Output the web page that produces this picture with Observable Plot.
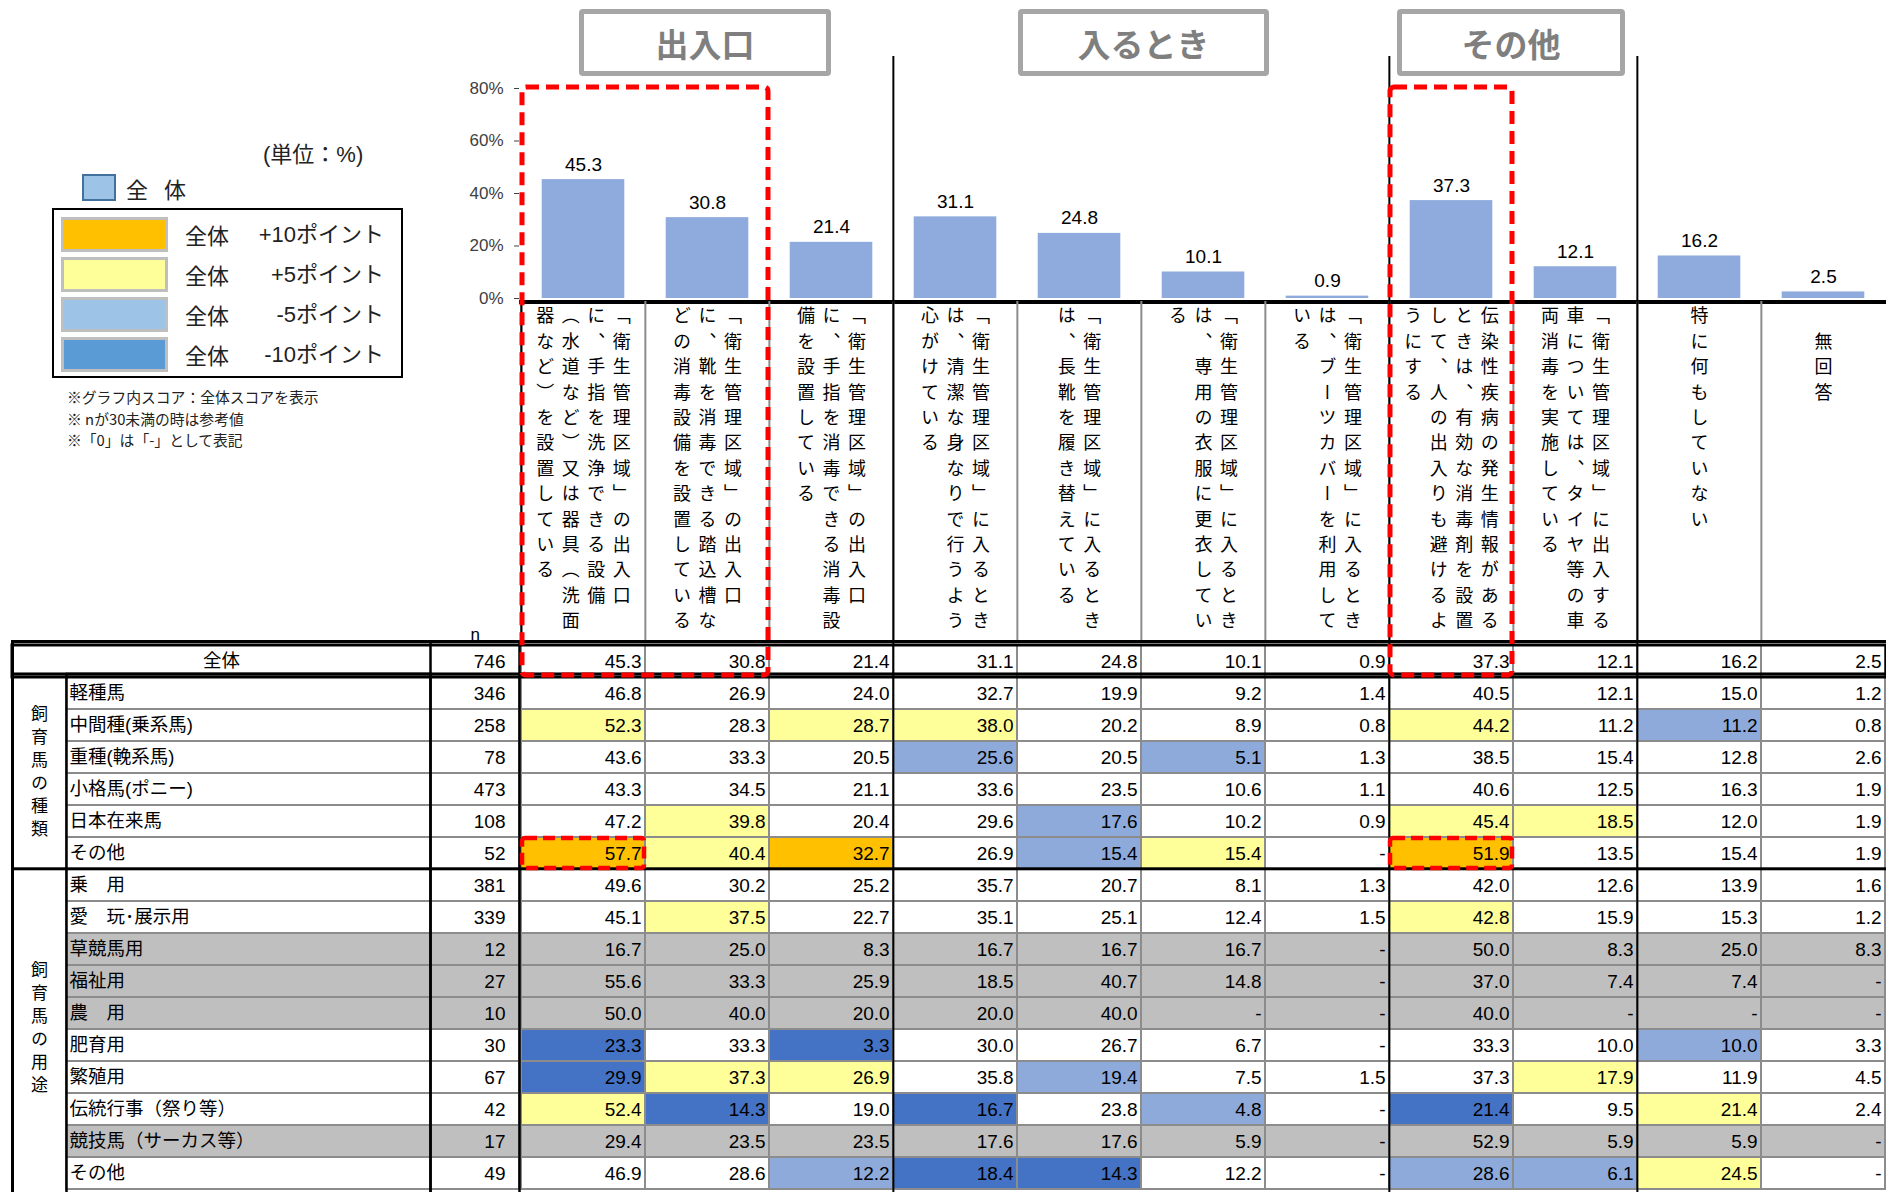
<!DOCTYPE html>
<html><head><meta charset="utf-8">
<script src="https://cdn.jsdelivr.net/npm/d3@7"></script>
<script src="https://cdn.jsdelivr.net/npm/@observablehq/plot@0.6"></script>
<style>
body{margin:0;background:#fff;}
#wrap{position:relative;width:1886px;height:1192px;overflow:hidden;background:#fff;}
.abs{position:absolute;}
.abs svg{display:block;}
.hdr{position:absolute;top:9px;height:67px;box-sizing:border-box;border:5px solid #a6a6a6;border-radius:4px;display:flex;align-items:center;justify-content:center;font:700 33px 'Noto Sans CJK JP',sans-serif;color:#7f7f7f;background:#fff;}
.jp{font-family:'Noto Sans CJK JP',sans-serif;color:#222;}
.mix{font-family:'Liberation Sans','Noto Sans CJK JP',sans-serif;color:#222;}
</style></head>
<body><div id="wrap"></div>
<script>
// ---------------- data ----------------
const colKeys = ["c1","c2","c3","c4","c5","c6","c7","c8","c9","c10","c11"];
const colLabelLines = [
  ["「衛生管理区域」の出入口","に、手指を洗浄できる設備","（水道など）又は器具（洗面","器など）を設置している"],
  ["「衛生管理区域」の出入口","に、靴を消毒できる踏込槽な","どの消毒設備を設置している"],
  ["「衛生管理区域」の出入口","に、手指を消毒できる消毒設","備を設置している"],
  ["「衛生管理区域」に入るとき","は、清潔な身なりで行うよう","心がけている"],
  ["「衛生管理区域」に入るとき","は、長靴を履き替えている"],
  ["「衛生管理区域」に入るとき","は、専用の衣服に更衣してい","る"],
  ["「衛生管理区域」に入るとき","は、ブーツカバーを利用して","いる"],
  ["伝染性疾病の発生情報がある","ときは、有効な消毒剤を設置","して、人の出入りも避けるよ","うにする"],
  ["「衛生管理区域」に出入する","車については、タイヤ等の車","両消毒を実施している"],
  ["特に何もしていない"],
  ["　無回答"]
];
const groupHeaders = ["出入口","入るとき","その他"];
const yTicks = [0,20,40,60,80];

const rowKeys = ["全体","軽種馬","中間種(乗系馬)","重種(輓系馬)","小格馬(ポニー)","日本在来馬","その他(種類)",
  "乗用","愛玩・展示用","草競馬用","福祉用","農用","肥育用","繁殖用","伝統行事","競技馬","その他(用途)"];
const rowLabels = ["全体","軽種馬","中間種(乗系馬)","重種(輓系馬)","小格馬(ポニー)","日本在来馬","その他",
  "乗　用","愛　玩･展示用","草競馬用","福祉用","農　用","肥育用","繁殖用","伝統行事（祭り等）","競技馬（サーカス等）","その他"];
const rowN = [746,346,258,78,473,108,52,381,339,12,27,10,30,67,42,17,49];

const vTotal    = [45.3,30.8,21.4,31.1,24.8,10.1,0.9,37.3,12.1,16.2,2.5];
const vKeishu   = [46.8,26.9,24.0,32.7,19.9,9.2,1.4,40.5,12.1,15.0,1.2];
const vChukan   = [52.3,28.3,28.7,38.0,20.2,8.9,0.8,44.2,11.2,11.2,0.8];
const vJushu    = [43.6,33.3,20.5,25.6,20.5,5.1,1.3,38.5,15.4,12.8,2.6];
const vShokaku  = [43.3,34.5,21.1,33.6,23.5,10.6,1.1,40.6,12.5,16.3,1.9];
const vZairai   = [47.2,39.8,20.4,29.6,17.6,10.2,0.9,45.4,18.5,12.0,1.9];
const vSonota1  = [57.7,40.4,32.7,26.9,15.4,15.4,0,51.9,13.5,15.4,1.9];
const vJoyo     = [49.6,30.2,25.2,35.7,20.7,8.1,1.3,42.0,12.6,13.9,1.6];
const vAigan    = [45.1,37.5,22.7,35.1,25.1,12.4,1.5,42.8,15.9,15.3,1.2];
const vKusakeiba= [16.7,25.0,8.3,16.7,16.7,16.7,0,50.0,8.3,25.0,8.3];
const vFukushi  = [55.6,33.3,25.9,18.5,40.7,14.8,0,37.0,7.4,7.4,0];
const vNoyo     = [50.0,40.0,20.0,20.0,40.0,0,0,40.0,0,0,0];
const vHiiku    = [23.3,33.3,3.3,30.0,26.7,6.7,0,33.3,10.0,10.0,3.3];
const vHanshoku = [29.9,37.3,26.9,35.8,19.4,7.5,1.5,37.3,17.9,11.9,4.5];
const vDento    = [52.4,14.3,19.0,16.7,23.8,4.8,0,21.4,9.5,21.4,2.4];
const vKyogi    = [29.4,23.5,23.5,17.6,17.6,5.9,0,52.9,5.9,5.9,0];
const vSonota2  = [46.9,28.6,12.2,18.4,14.3,12.2,0,28.6,6.1,24.5,0];
const rowValues = [vTotal,vKeishu,vChukan,vJushu,vShokaku,vZairai,vSonota1,vJoyo,vAigan,vKusakeiba,vFukushi,vNoyo,vHiiku,vHanshoku,vDento,vKyogi,vSonota2];

const rowGroups = [
  {label:"飼育馬の種類", start:1, end:6},
  {label:"飼育馬の用途", start:7, end:16}
];
const highlightCols = [["c1","c2"],["c8","c8"]];
const highlightCells = [{col:"c1", key:"その他(種類)"},{col:"c8", key:"その他(種類)"}];

const legendLabels = ["+10ポイント","+5ポイント","-5ポイント","-10ポイント"];
const catDomain = ["p10","p5","m5","m10","none","small"];
const catRange  = ["#ffc000","#ffff99","#8eaadb","#4472c4","#ffffff","#bfbfbf"];
const legendSwatch = ["#ffc000","#ffff99","#9dc3e6","#5b9bd5"];
const notes = ["※グラフ内スコア：全体スコアを表示","※ nが30未満の時は参考値","※「0」は「-」として表記"];

// ---------------- layout ----------------
const W = 1886;
const L = {left:12, labelLeft:66, nLeft:430, dataLeft:519, right:1886,
  hA:304, topB:301, hB:340, topC:630, hC:563, mTopC:11};
const step = (L.right - L.dataLeft) / colKeys.length;
const rowH = (L.hC - L.mTopC) / rowKeys.length;
const numFont = "'Liberation Sans', Arial, sans-serif";
const mixFont = "'Liberation Sans', 'Noto Sans CJK JP', sans-serif";
const jpFont = "'Noto Sans CJK JP', sans-serif";
const gray = "#8c8c8c";

const wrap = document.getElementById("wrap");
function place(node, left, top, z) {
  const d = document.createElement("div");
  d.className = "abs"; d.style.left = left + "px"; d.style.top = top + "px"; d.style.zIndex = z;
  d.appendChild(node); wrap.appendChild(d); return d;
}

// ---------------- Plot A: bars ----------------
const bars = colKeys.map((c, j) => ({col: c, v: vTotal[j]}));
const plotA = Plot.plot({
  width: W, height: L.hA, marginLeft: L.dataLeft, marginRight: 0, marginTop: 0, marginBottom: 0,
  x: {type: "band", domain: colKeys, padding: 0, axis: null},
  y: {domain: [0, 80], range: [298, 88], ticks: yTicks, tickFormat: d => d + "%", tickSize: 5, tickPadding: 11, label: null},
  style: {background: "transparent", fontSize: "17px", fontFamily: numFont, color: "#404040", overflow: "visible"},
  marks: [
    Plot.barY(bars, {x: "col", y: "v", fill: "#8faadc", insetLeft: step / 6, insetRight: step / 6}),
    Plot.text(bars, {x: "col", y: "v", text: d => d.v.toFixed(1), dy: -9, lineAnchor: "bottom", fontSize: 19, fontFamily: numFont, fill: "#000"}),
    Plot.ruleX(["c4","c8","c10"], {x: d => d, dx: -step / 2, insetTop: 56, stroke: "#000", strokeWidth: 2}),
    Plot.ruleY([0], {dy: 3.5, stroke: "#000", strokeWidth: 4})
  ]
});
place(plotA, 0, 0, 1);

// ---------------- Plot B: vertical column labels ----------------
const vLines = [];
colLabelLines.forEach((lines, j) => lines.forEach((t, i) => vLines.push({col: colKeys[j], text: t, n: lines.length, i})));
const vMarks = [];
for (const [n, byI] of d3.groups(vLines, d => d.n, d => d.i))
  for (const [i, data] of byI)
    vMarks.push(Plot.text(data, {x: "col", text: "text", frameAnchor: "top", dy: 5, dx: ((n - 1) / 2 - i) * 25.5,
      textAnchor: "start", lineAnchor: "bottom", fontSize: 18, fontFamily: jpFont, fill: "#000"}));
const plotB = Plot.plot({
  width: W, height: L.hB, marginLeft: L.dataLeft, marginRight: 0, marginTop: 0, marginBottom: 0,
  x: {type: "band", domain: colKeys, padding: 0, axis: null},
  style: {background: "transparent", overflow: "visible"},
  marks: [
    Plot.ruleX(colKeys, {x: d => d, dx: -step / 2, stroke: gray, strokeWidth: 2}),
    Plot.ruleX(["c1","c4","c8","c10"], {x: d => d, dx: -step / 2, stroke: "#000", strokeWidth: 2}),
    ...vMarks
  ]
});
d3.select(plotB).selectAll("text").style("writing-mode", "vertical-rl").style("letter-spacing", "7.4px");
place(plotB, 0, L.topB, 1);

// ---------------- Plot C: table ----------------
function cat(v, base, n) {
  if (n < 30) return "small";
  const d = Math.round((v - base) * 10) / 10;
  if (d >= 10) return "p10";
  if (d >= 5) return "p5";
  if (d <= -10) return "m10";
  if (d <= -5) return "m5";
  return "none";
}
const rows = rowKeys.map((k, r) => ({key: k, label: rowLabels[r], n: rowN[r], idx: r}));
const bodyRows = rows.filter(d => d.idx > 0);
const cells = [];
rows.forEach((row, r) => colKeys.forEach((c, j) => {
  const v = rowValues[r][j];
  cells.push({key: row.key, col: c, v, cat: r === 0 ? "none" : cat(v, vTotal[j], row.n)});
}));
const groupMarks = rowGroups.map(g => {
  const a = Math.floor((g.start + g.end) / 2);
  const center = (g.start + g.end + 1) / 2;
  return {label: g.label, key: rowKeys[a], dy: (center - a - 0.5) * rowH};
});
const fmt = v => v === 0 ? "-" : v.toFixed(1);
const plotC = Plot.plot({
  width: W, height: L.hC, marginLeft: L.left, marginRight: 0, marginTop: L.mTopC, marginBottom: 0,
  x: {type: "band", domain: colKeys, range: [L.dataLeft, L.right], padding: 0, axis: null},
  y: {type: "band", domain: rowKeys, padding: 0, axis: null},
  color: {domain: catDomain, range: catRange},
  style: {background: "transparent", overflow: "visible"},
  marks: [
    Plot.cell(bodyRows, {y: "key", fill: d => d.n < 30 ? "small" : "none", insetLeft: L.labelLeft - L.left, insetRight: L.right - L.dataLeft}),
    Plot.cell(cells, {x: "col", y: "key", fill: "cat", stroke: gray, strokeWidth: 2}),
    Plot.cell(bodyRows, {y: "key", fill: "none", stroke: gray, strokeWidth: 2, insetLeft: L.labelLeft - L.left, insetRight: L.right - L.dataLeft}),
    // texts
    Plot.text(cells, {x: "col", y: "key", text: d => fmt(d.v), textAnchor: "end", dx: step / 2 - 4, fontSize: 19, fontFamily: numFont, fill: "#000"}),
    Plot.text(rows, {y: "key", text: d => String(d.n), frameAnchor: "left", dx: L.nLeft - L.left + 75, textAnchor: "end", fontSize: 19, fontFamily: numFont, fill: "#000"}),
    Plot.text(bodyRows, {y: "key", text: "label", frameAnchor: "left", dx: L.labelLeft - L.left + 3, textAnchor: "start", fontSize: 18.5, fontFamily: mixFont, fill: "#000"}),
    Plot.text(rows.slice(0, 1), {y: "key", text: "label", frameAnchor: "left", dx: (L.nLeft - L.left) / 2, textAnchor: "middle", fontSize: 18.5, fontFamily: mixFont, fill: "#000"}),
    Plot.text(groupMarks, {y: "key", text: "label", dy: groupMarks[0].dy, frameAnchor: "left", dx: (L.labelLeft - L.left) / 2, textAnchor: "middle", lineAnchor: "bottom", fontSize: 17, fontFamily: jpFont, fill: "#000"}),
    Plot.text(["n"], {text: d => d, frameAnchor: "top-left", dx: 458, dy: -14, fontSize: 17, fontFamily: numFont, fill: "#000"}),
    // black lines
    Plot.frame({insetLeft: L.nLeft - L.left, insetRight: L.right - L.dataLeft, stroke: "#000", strokeWidth: 2.5}),
    Plot.frame({insetLeft: L.labelLeft - L.left, insetRight: L.right - L.nLeft, insetTop: rowH, stroke: "#000", strokeWidth: 2.5}),
    Plot.ruleX(["c4","c8","c10"], {x: d => d, dx: -step / 2, stroke: "#000", strokeWidth: 2}),
    Plot.cell(rows.slice(0, 1), {y: "key", fill: "none", stroke: "#000", strokeWidth: 3}),
    Plot.frame({insetTop: rowH, insetBottom: rowH * (rowKeys.length - 7), insetRight: -3, stroke: "#000", strokeWidth: 3}),
    Plot.frame({insetRight: -3, insetBottom: -3, stroke: "#000", strokeWidth: 3}),
    // highlighted cells
    Plot.cell(highlightCells, {x: "col", y: "key", fill: "none", stroke: "#ff0000", strokeWidth: 4.5, strokeDasharray: "12,6", inset: 1, rx: 3})
  ]
});
const groupSet = new Set(rowGroups.map(g => g.label));
d3.select(plotC).selectAll("text").filter(function() { return groupSet.has(this.textContent); })
  .style("writing-mode", "vertical-rl").style("letter-spacing", "6px");
place(plotC, 0, L.topC, 2);

// ---------------- header boxes ----------------
const headerPos = [[579, 252], [1018, 251], [1397, 228]];
groupHeaders.forEach((h, i) => {
  const d = document.createElement("div");
  d.className = "hdr"; d.style.left = headerPos[i][0] + "px"; d.style.width = headerPos[i][1] + "px";
  d.textContent = h; d.style.zIndex = 3; wrap.appendChild(d);
});

// ---------------- legend ----------------
function html(s, left, top, z = 3) {
  const d = document.createElement("div");
  d.className = "abs"; d.style.left = left + "px"; d.style.top = top + "px"; d.style.zIndex = z;
  d.innerHTML = s; wrap.appendChild(d); return d;
}
html(`<div class="mix" style="font-size:22px;line-height:30px;white-space:nowrap">(単位：%)</div>`, 263, 140);
html(`<div style="width:34px;height:27px;box-sizing:border-box;background:#9dc3e6;border:2px solid #41719c"></div>`, 82, 174);
html(`<div class="jp" style="font-size:22px;line-height:32px;letter-spacing:16px">全体</div>`, 126, 172);
html(`<div style="width:351px;height:170px;box-sizing:border-box;border:2px solid #000;background:#fff"></div>`, 52, 208);
legendLabels.forEach((t, i) => {
  const top = 217 + 40 * i;
  html(`<div style="width:107px;height:35px;box-sizing:border-box;background:${legendSwatch[i]};border:3px solid #bfbfbf"></div>`, 61, top, 4);
  html(`<div class="jp" style="font-size:22px;line-height:35px">全体</div>`, 185, top, 4);
  html(`<div class="mix" style="font-size:22px;line-height:35px;width:170px;text-align:right">${t}</div>`, 214, top, 4);
});
notes.forEach((t, i) => html(`<div class="jp" style="font-size:14.8px;line-height:22px;white-space:nowrap">${t}</div>`, 67, 386 + 21.5 * i));

// ---------------- red dashed boxes (positions from the Plot scales) ----------------
const xA = plotA.scale("x"), yA = plotA.scale("y"), yC = plotC.scale("y");
const boxes = highlightCols.map(([a, b]) => ({
  x1: xA.apply(a) + 1, x2: xA.apply(b) + xA.bandwidth - 1,
  y1: yA.apply(yTicks[yTicks.length - 1]) - 1,
  y2: L.topC + yC.apply(rowKeys[0]) + yC.bandwidth - 2
}));
const plotD = Plot.plot({
  width: W, height: 1192, margin: 0,
  x: {type: "identity", axis: null}, y: {type: "identity", axis: null},
  style: {background: "transparent"},
  marks: [Plot.rect(boxes, {x1: "x1", x2: "x2", y1: "y1", y2: "y2", fill: "none", stroke: "#ff0000", strokeWidth: 5, strokeDasharray: "13,7", rx: 4})]
});
place(plotD, 0, 0, 10).style.pointerEvents = "none";
</script>
</body></html>
